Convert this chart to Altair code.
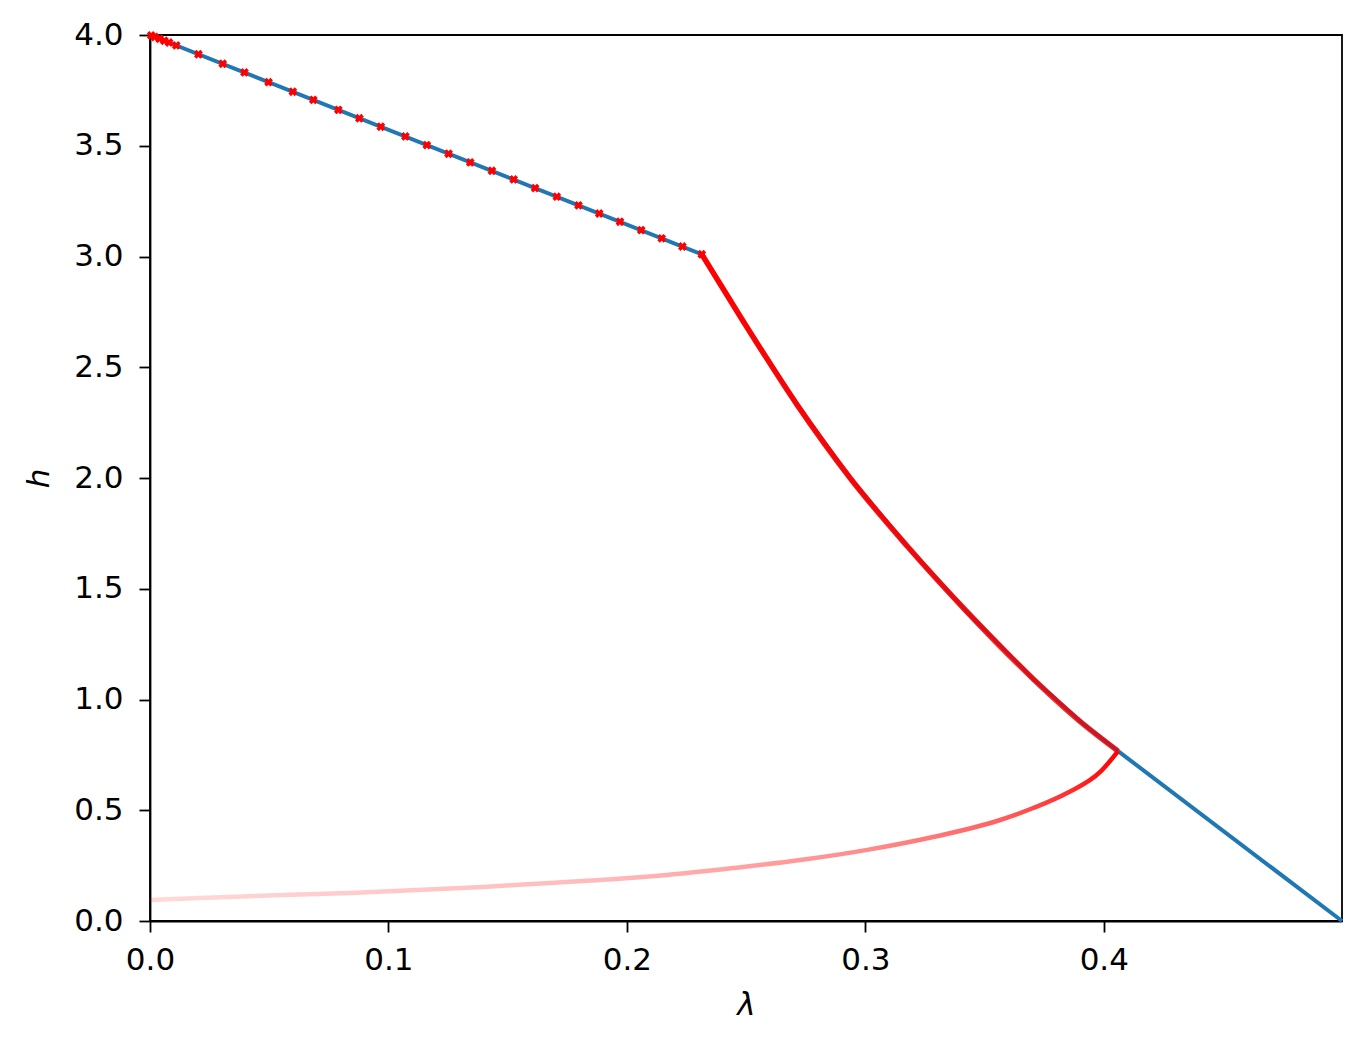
import altair as alt
import pandas as pd

# Blue curve (lambda, h)
blue_lam = [0.0, 0.2314, 0.2487, 0.2714, 0.2936, 0.3175, 0.3427, 0.3704, 0.3914, 0.4060, 0.4999]
blue_h = [4.0, 3.010, 2.709, 2.330, 2.000, 1.693, 1.395, 1.093, 0.889, 0.767, 0.0]

# Red upper curve (dense markers) from the kink down to the fold
red_up_lam = [0.2314, 0.2487, 0.2714, 0.2936, 0.3175, 0.3427, 0.3704, 0.3914, 0.4060]
red_up_h = [3.010, 2.709, 2.330, 2.000, 1.693, 1.395, 1.093, 0.889, 0.767]

# Red lower (fading) branch from the fold back to lambda = 0
red_low_lam = [0.4060, 0.3985, 0.3846, 0.3704, 0.3565, 0.3284, 0.3008, 0.2727, 0.2446,
               0.2169, 0.1888, 0.1678, 0.1397, 0.1120, 0.0839, 0.0558, 0.0210, 0.0]
red_low_h = [0.767, 0.673, 0.578, 0.510, 0.456, 0.379, 0.321, 0.275, 0.239,
             0.208, 0.185, 0.172, 0.154, 0.140, 0.126, 0.117, 0.104, 0.095]

# Red markers on the first straight part
dot_lam = [0.0005, 0.002, 0.004, 0.006, 0.008, 0.011, 0.0203, 0.0305, 0.0396, 0.0497,
           0.0599, 0.0685, 0.0790, 0.0878, 0.0968, 0.1071, 0.1161, 0.1252, 0.1343, 0.1434,
           0.1525, 0.1615, 0.1706, 0.1797, 0.1884, 0.1971, 0.2060, 0.2146, 0.2233, 0.2314]
dot_h = [3.998, 3.991, 3.983, 3.974, 3.966, 3.953, 3.913, 3.870, 3.831, 3.787,
         3.744, 3.707, 3.662, 3.624, 3.586, 3.542, 3.503, 3.464, 3.425, 3.387,
         3.348, 3.309, 3.270, 3.231, 3.194, 3.157, 3.119, 3.082, 3.045, 3.010]

x_ticks = [0.0, 0.1, 0.2, 0.3, 0.4]
y_ticks = [0.0, 0.5, 1.0, 1.5, 2.0, 2.5, 3.0, 3.5, 4.0]

blue_df = pd.DataFrame({"lam": blue_lam, "h": blue_h, "i": range(len(blue_lam))})
up_df = pd.DataFrame({"lam": red_up_lam, "h": red_up_h})
low_df = pd.DataFrame({"lam": red_low_lam, "h": red_low_h})
dot_df = pd.DataFrame({"lam": dot_lam, "h": dot_h})

xs = alt.Scale(domain=[0, 0.4999], nice=False, zero=False)
ys = alt.Scale(domain=[0, 4], nice=False, zero=False)

x_axis = alt.Axis(values=x_ticks, format=".1f", title="λ")
y_axis = alt.Axis(values=y_ticks, format=".1f", title="h")

blue = alt.Chart(blue_df).mark_line(color="#1f77b4", strokeWidth=4).encode(
    x=alt.X("lam:Q", scale=xs, axis=x_axis),
    y=alt.Y("h:Q", scale=ys, axis=y_axis),
    order="i:Q",
)

up_grad = alt.Gradient(
    gradient="linear", x1=0, y1=0, x2=0, y2=1,
    stops=[
        alt.GradientStop(color="rgba(255,0,0,1)", offset=0),
        alt.GradientStop(color="rgba(250,0,0,0.92)", offset=0.6),
        alt.GradientStop(color="rgba(240,0,0,0.78)", offset=1),
    ],
)
up = alt.Chart(up_df).mark_line(color=up_grad, strokeWidth=5.5, interpolate="monotone").encode(
    x=alt.X("lam:Q", scale=xs),
    y=alt.Y("h:Q", scale=ys),
    order="lam:Q",
)

low_grad = alt.Gradient(
    gradient="linear", x1=0, y1=0, x2=1, y2=0,
    stops=[
        alt.GradientStop(color="rgba(255,0,0,0.15)", offset=0),
        alt.GradientStop(color="rgba(255,0,0,0.27)", offset=0.47),
        alt.GradientStop(color="rgba(255,0,0,0.45)", offset=0.74),
        alt.GradientStop(color="rgba(255,0,0,0.62)", offset=0.877),
        alt.GradientStop(color="rgba(255,0,0,0.82)", offset=0.95),
        alt.GradientStop(color="rgba(255,0,0,1)", offset=1),
    ],
)
low = alt.Chart(low_df).mark_line(color=low_grad, strokeWidth=4.5, interpolate="monotone").encode(
    x=alt.X("lam:Q", scale=xs),
    y=alt.Y("h:Q", scale=ys),
    order="lam:Q",
)

dots = alt.Chart(dot_df).mark_point(shape="cross", angle=45, filled=True, color="#ff0000",
                                     size=80, opacity=1).encode(
    x=alt.X("lam:Q", scale=xs),
    y=alt.Y("h:Q", scale=ys),
)

chart = alt.layer(blue, up, low, dots).properties(
    width=1192, height=886,
    autosize=alt.AutoSizeParams(type="none"),
    padding={"left": 142, "top": 27, "right": 17, "bottom": 111},
).configure_view(
    stroke="black", strokeWidth=1.8
).configure_axis(
    grid=False,
    domainColor="black", domainWidth=1.8,
    tickColor="black", tickWidth=1.8, tickSize=11,
    labelColor="black", labelFont="DejaVu Sans", labelFontSize=31,
    labelPadding=13,
    titleColor="black", titleFont="DejaVu Sans", titleFontSize=31,
    titleFontStyle="italic", titleFontWeight="normal",
).configure_axisX(
    titlePadding=15, labelFlush=False
).configure_axisY(
    titlePadding=18, labelFlush=False, labelPadding=16
)

chart.save("out.html", embed_options={"renderer": "svg", "actions": False})
